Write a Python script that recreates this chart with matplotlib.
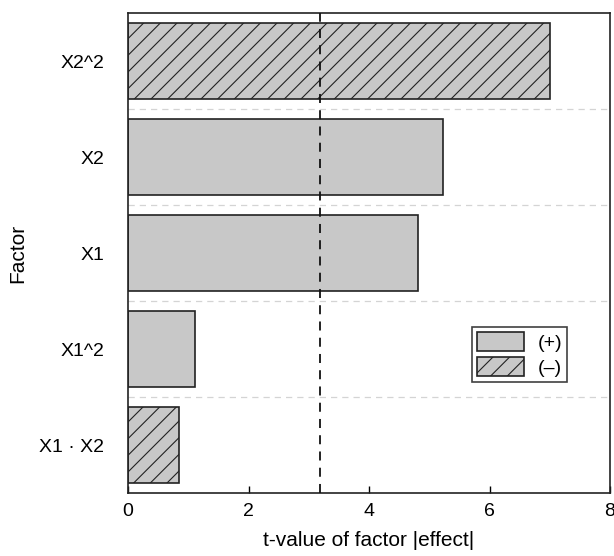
#!/usr/bin/env python3
"""
Pareto chart of factor t-values with critical-value line.
"""

import matplotlib

matplotlib.use("Agg")
import matplotlib.pyplot as plt
from matplotlib.patches import Patch

plt.rcParams["font.family"] = ["Liberation Sans", "DejaVu Sans"]
plt.rcParams["hatch.linewidth"] = 0.8

# data, bottom to top
factors = ["X1 · X2", "X1^2", "X1", "X2", "X2^2"]
t_values = [0.84, 1.12, 4.82, 5.22, 7.0]
signs = ["-", "+", "+", "+", "-"]
t_crit = 3.18

xticks = [0, 2, 4, 6, 8]
legend_labels = ["(+)", "(–)"]


def main() -> int:
    fig = plt.figure(figsize=(6.14, 5.56), dpi=100)
    ax = fig.add_axes([0.2085, 0.1133, 0.785, 0.8633])

    fill = "#c8c8c8"
    edge = "#222222"

    # faint separators between factors
    for k in range(len(factors) - 1):
        ax.axhline(k + 0.5, color="#d4d4d4", lw=0.9, ls=(0, (5, 4)), zorder=0)

    for i, (val, sgn) in enumerate(zip(t_values, signs)):
        ax.barh(
            i,
            val,
            height=0.8,
            color=fill,
            edgecolor=edge,
            linewidth=1.2,
            hatch="//" if sgn == "-" else None,
            zorder=2,
        )

    ax.axvline(t_crit, color="#111111", lw=1.3, ls=(0, (5, 4)), zorder=3)

    ax.set_xlim(0, 8)
    ax.set_ylim(-0.5, len(factors) - 0.5)
    ax.set_xticks(xticks)
    ax.set_xticklabels([str(t) for t in xticks], fontsize=14)
    ax.set_yticks(range(len(factors)))
    ax.set_yticklabels(factors, fontsize=14)
    ax.tick_params(axis="x", direction="in", length=5, width=1, pad=7)
    ax.tick_params(axis="y", length=0, pad=17)

    for sp in ax.spines.values():
        sp.set_linewidth(1.2)
        sp.set_color(edge)

    ax.set_xlabel("t-value of factor |effect|", fontsize=15, labelpad=8)
    ax.set_ylabel("Factor", fontsize=15, labelpad=9)

    handles = [
        Patch(facecolor=fill, edgecolor=edge, linewidth=1.2),
        Patch(facecolor=fill, edgecolor=edge, linewidth=1.2, hatch="//"),
    ]
    leg = ax.legend(
        handles,
        legend_labels,
        loc="lower right",
        bbox_to_anchor=(0.911, 0.231),
        fontsize=14,
        frameon=True,
        fancybox=False,
        handlelength=2.4,
        handleheight=1.15,
        handletextpad=0.7,
        borderpad=0.25,
        labelspacing=0.25,
        borderaxespad=0,
    )
    leg.get_frame().set_edgecolor("#111111")
    leg.get_frame().set_linewidth(1.2)

    fig.savefig("out.png", dpi=100)
    return 0


if __name__ == "__main__":
    raise SystemExit(main())
